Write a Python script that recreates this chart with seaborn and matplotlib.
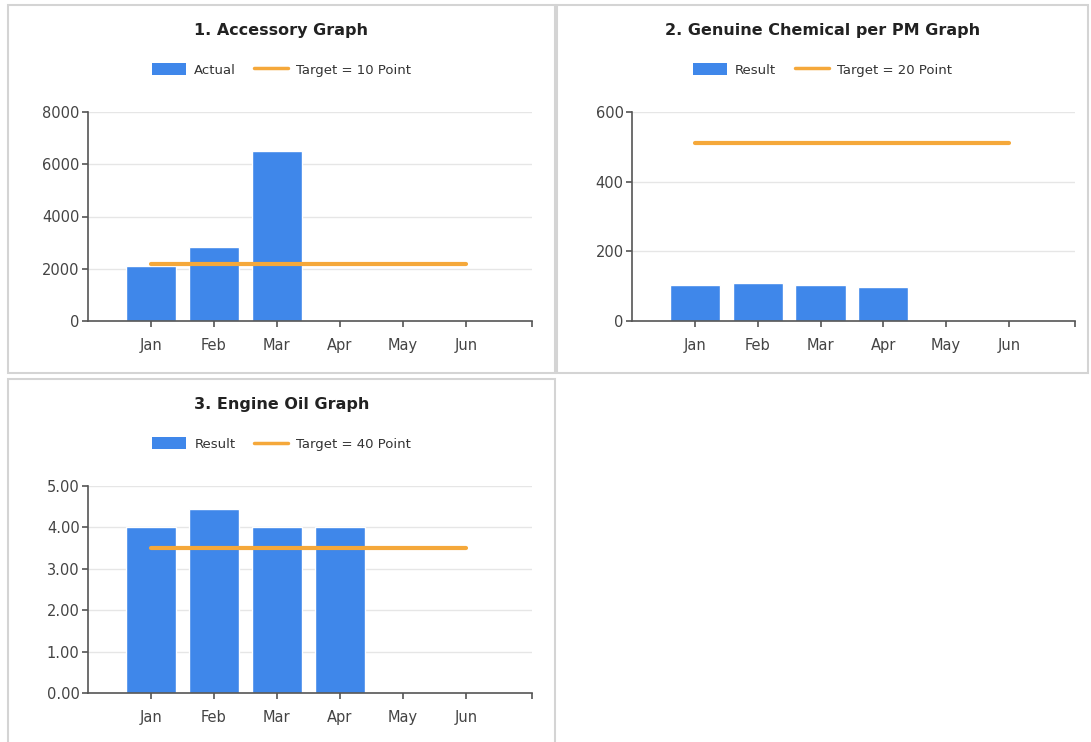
import matplotlib
matplotlib.use("Agg")
import matplotlib.pyplot as plt
import seaborn as sns
import numpy as np
from matplotlib.patches import Rectangle, Patch
from matplotlib.lines import Line2D

sns.set_style("white")
plt.rcParams['font.family'] = ['DejaVu Sans']

months = ["Jan", "Feb", "Mar", "Apr", "May", "Jun"]

# 1. Accessory
acc_months = ["Jan", "Feb", "Mar"]
acc_actual = [2100, 2850, 6500]
acc_target = [2180, 2180, 2180, 2180, 2180, 2180]

# 2. Genuine Chemical per PM
chem_months = ["Jan", "Feb", "Mar", "Apr"]
chem_result = [103, 109, 103, 98]
chem_target = [512, 512, 512, 512, 512, 512]

# 3. Engine Oil
oil_months = ["Jan", "Feb", "Mar", "Apr"]
oil_result = [4.0, 4.44, 4.0, 4.0]
oil_target = [3.5, 3.5, 3.5, 3.5, 3.5, 3.5]

BAR = "#3f87ea"
TGT = "#f5a83a"
W, H = 1091, 742

fig = plt.figure(figsize=(W / 100, H / 100), dpi=100)


def px_axes(l, t, r, b):
    return fig.add_axes([l / W, 1 - b / H, (r - l) / W, (b - t) / H])


def border(l, t, r, b):
    fig.patches.append(Rectangle((l / W, 1 - b / H), (r - l) / W, (b - t) / H,
                                 transform=fig.transFigure, fill=False,
                                 edgecolor="#d4d4d4", linewidth=1.5))


def panel(box, axbox, title, bar_label, tgt_label, bm, bv, tv, ymax, yticks, fmt):
    border(*box)
    ax = px_axes(*axbox)
    sns.barplot(x=bm, y=bv, order=months, color=BAR, width=0.8,
                saturation=1, ax=ax, zorder=2)
    sns.lineplot(x=np.arange(len(months)), y=tv, color=TGT, linewidth=3,
                 ax=ax, zorder=3)
    ax.set_xlim(-1, 6.05)
    ax.set_ylim(0, ymax)
    ax.set_yticks(yticks)
    ax.set_yticklabels([fmt.format(v) for v in yticks])
    ax.set_xticks(range(len(months)))
    ax.set_xticklabels(months)
    ax.set_xticks([6.05], minor=True)
    for v in yticks[1:]:
        ax.axhline(v, color="#e6e6e6", linewidth=1, zorder=0)
    sns.despine(ax=ax)
    for s in ("left", "bottom"):
        ax.spines[s].set_color("#555555")
        ax.spines[s].set_linewidth(1.2)
    ax.tick_params(axis="both", which="both", length=4, width=1.2, color="#555555",
                   labelsize=10.5, labelcolor="#444444", direction="out",
                   bottom=True, left=True)
    ax.tick_params(axis="x", pad=8)
    ax.tick_params(axis="y", pad=2)
    ax.set_xlabel("")
    ax.set_ylabel("")
    cx = (box[0] + box[2]) / 2
    fig.text(cx / W, 1 - (box[1] + 25) / H, title, ha="center", va="center",
             fontsize=11.5, fontweight="bold", color="#222222")
    handles = [Patch(facecolor=BAR, edgecolor="none"),
               Line2D([0], [0], color=TGT, linewidth=2.5)]
    fig.legend(handles, [bar_label, tgt_label], loc="center",
               bbox_to_anchor=(cx / W, 1 - (box[1] + 65) / H), ncol=2,
               frameon=False, fontsize=9.5, handlelength=2.6, handleheight=1.0,
               columnspacing=1.4, handletextpad=0.6, labelcolor="#333333")
    return ax


panel((8, 5, 555, 373), (88, 112, 532, 321), "1. Accessory Graph", "Actual",
      "Target = 10 Point", acc_months, acc_actual, acc_target,
      8000, [0, 2000, 4000, 6000, 8000], "{:.0f}")
panel((557, 5, 1088, 373), (632, 112, 1075, 321),
      "2. Genuine Chemical per PM Graph", "Result", "Target = 20 Point",
      chem_months, chem_result, chem_target, 600, [0, 200, 400, 600], "{:.0f}")
panel((8, 379, 555, 745), (88, 486, 532, 693), "3. Engine Oil Graph", "Result",
      "Target = 40 Point", oil_months, oil_result, oil_target,
      5, [0, 1, 2, 3, 4, 5], "{:.2f}")

fig.savefig("out.png", dpi=100, facecolor="white")
